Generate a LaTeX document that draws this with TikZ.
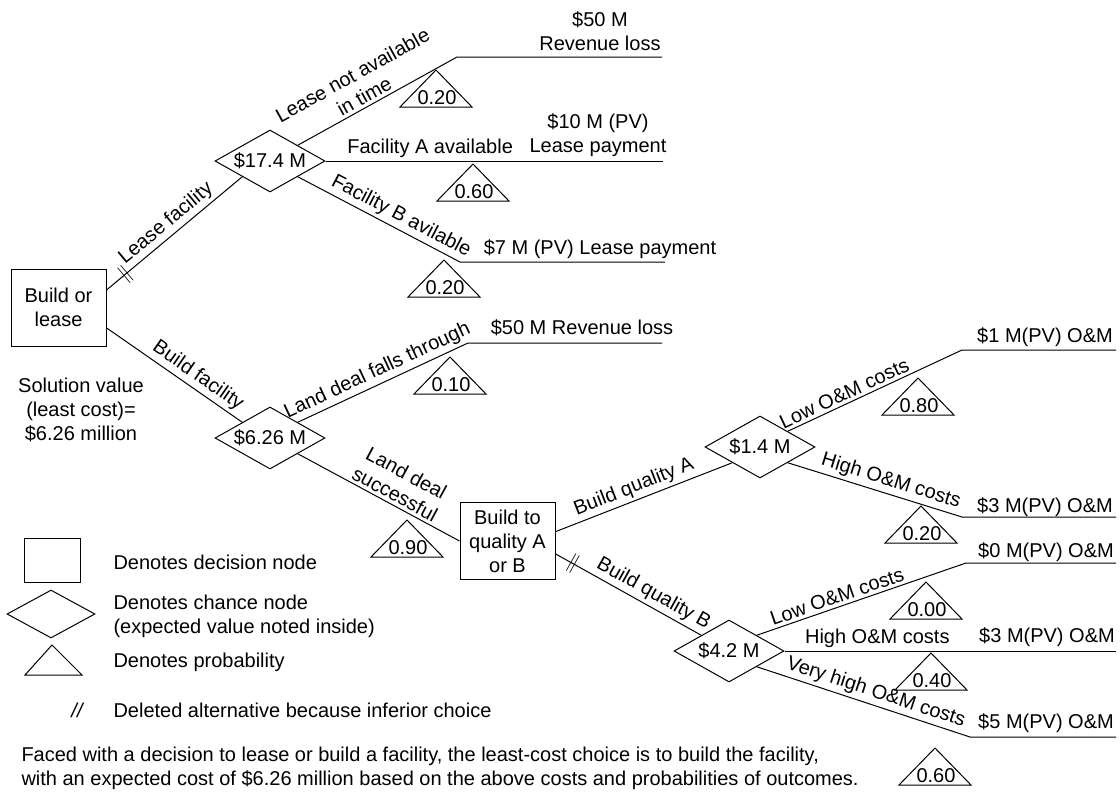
\documentclass[tikz,border=0pt]{standalone}
\usepackage{fontspec}
\setmainfont{Liberation Sans}
\usepackage{tikz}
\usetikzlibrary{calc}
\usetikzlibrary{shapes.geometric}
\tikzset{decision/.style={draw=black,rectangle,minimum width=47.5pt,minimum height=38.5pt,inner sep=1pt,align=center}}
\tikzset{chance/.style={draw=black,diamond,aspect=1.8,inner sep=0pt,minimum width=55pt,minimum height=31pt}}
\tikzset{lbl/.style={sloped,above,inner sep=1.5pt,align=center}}
\tikzset{cut/.style={sloped,inner sep=0pt}}
\tikzset{pay/.style={align=center,inner sep=0pt}}
\tikzset{prob/.style={inner sep=0pt}}
\tikzset{legend/.style={anchor=west,inner sep=0pt,align=left}}

\begin{document}
\begin{tikzpicture}[x=0.5pt, y=-0.5pt, line width=0.5pt]
\useasboundingbox (0, 0) rectangle (1120, 793);

\node[decision] (B1) at (58.5, 307.5) {Build or\\lease};
\node[decision] (B2) at (507.5, 541) {Build to\\quality A\\or B};
\node[chance] (D1) at (270, 161) {\$17.4 M};
\node[chance] (D2) at (270, 438) {\$6.26 M};
\node[chance] (D3) at (760, 447) {\$1.4 M};
\node[chance] (D4) at (729, 651) {\$4.2 M};

\coordinate (a1) at (457, 57);  \coordinate (a1e) at (662, 57);
\coordinate (a2e) at (663, 161);
\coordinate (a3) at (460, 262); \coordinate (a3e) at (665, 262);
\coordinate (a4) at (468, 343); \coordinate (a4e) at (662, 343);
\coordinate (c1) at (962, 350); \coordinate (c1e) at (1116, 350);
\coordinate (c2) at (962, 517); \coordinate (c2e) at (1116, 517);
\coordinate (c3) at (966, 563); \coordinate (c3e) at (1116, 563);
\coordinate (c4e) at (1116, 651);
\coordinate (c5) at (970, 737); \coordinate (c5e) at (1116, 737);

\draw (B1.20) -- node[cut, pos=0.14] {$\|$} node[lbl] {Lease facility} (D1.south west);
\draw (B1.-23) -- node[lbl, pos=0.62] {Build facility} (D2.north west);

\draw (D1.north east) -- node[lbl, pos=0.45] {Lease not available\\in time} (a1) -- (a1e);
\draw (D1.east) -- node[lbl, pos=0.31] {Facility A available} (a2e);
\draw (D1.south east) -- node[lbl, pos=0.6] {Facility B avilable} (a3) -- (a3e);
\draw (D2.north east) -- node[lbl, pos=0.5] {Land deal falls through} (a4) -- (a4e);
\draw (D2.south east) -- node[lbl, pos=0.57] {Land deal\\successful} (B2.west);

\draw (B2.11) -- node[lbl, pos=0.47] {Build quality A} (D3.south west);
\draw (B2.-15) -- node[cut, pos=0.12] {$\|$} node[lbl, pos=0.63] {Build quality B} (D4.north west);

\draw (D3.north east) -- node[lbl, pos=0.35] {Low O\&M costs} (c1) -- (c1e);
\draw (D3.south east) -- node[lbl, pos=0.57] {High O\&M costs} (c2) -- (c2e);
\draw (D4.north east) -- node[lbl, pos=0.4] {Low O\&M costs} (c3) -- (c3e);
\draw (D4.east) -- node[lbl, pos=0.28] {High O\&M costs} (c4e);
\draw (D4.south east) -- node[lbl, pos=0.54] {Very high O\&M costs} (c5) -- (c5e);

\node[pay] (v1) at (600, 31) {\$50 M\\Revenue loss};
\node[pay] (v2) at (598, 135) {\$10 M (PV)\\Lease payment};
\node[pay] (v3) at (600, 249) {\$7 M (PV) Lease payment};
\node[pay] (v4) at (582, 328) {\$50 M Revenue loss};
\node[pay] (v5) at (1045, 337) {\$1 M(PV) O\&M};
\node[pay] (v6) at (1045, 507) {\$3 M(PV) O\&M};
\node[pay] (v7) at (1046, 552) {\$0 M(PV) O\&M};
\node[pay] (v8) at (1047, 637) {\$3 M(PV) O\&M};
\node[pay] (v9) at (1046, 723) {\$5 M(PV) O\&M};

\foreach \x/\y/\p [count=\i] in {436/70/0.20, 473/164/0.60, 444/260/0.20, 450/357/0.10, 407/520/0.90,
  918/378/0.80, 921/506/0.20, 926/582/0.00, 931/653/0.40, 935/748/0.60}
 {
 \draw (\x, \y) -- ++(-36, 37) -- ++(72, 0) -- cycle;
 \node[prob] (p\i) at (\x+1, \y+28) {\p};
 }

\node[align=center] (sol) at (81, 410) {Solution value\\(least cost)=\\\$6.26 million};

\node[draw=black, minimum width=28pt, minimum height=22pt, inner sep=0pt] (L1) at (52, 560) {};
\node[draw=black, diamond, aspect=1.8, minimum width=44pt, minimum height=24pt, inner sep=0pt] (L2) at (51, 614) {};
\draw (52, 645) -- (25, 675) -- (82, 675) -- cycle;
\node[inner sep=0pt, font=\itshape] (L4) at (77, 710) {//};
\node[legend] (t1) at (113, 562) {Denotes decision node};
\node[legend] (t2) at (113, 616) {Denotes chance node\\(expected value noted inside)};
\node[legend] (t3) at (113, 662) {Denotes probability};
\node[legend] (t4) at (113, 710) {Deleted alternative because inferior choice};

\node[legend] (note) at (21, 768) {Faced with a decision to lease or build a facility, the least-cost choice is to build the facility,\\with an expected cost of \$6.26 million based on the above costs and probabilities of outcomes.};

\end{tikzpicture}
\end{document}
